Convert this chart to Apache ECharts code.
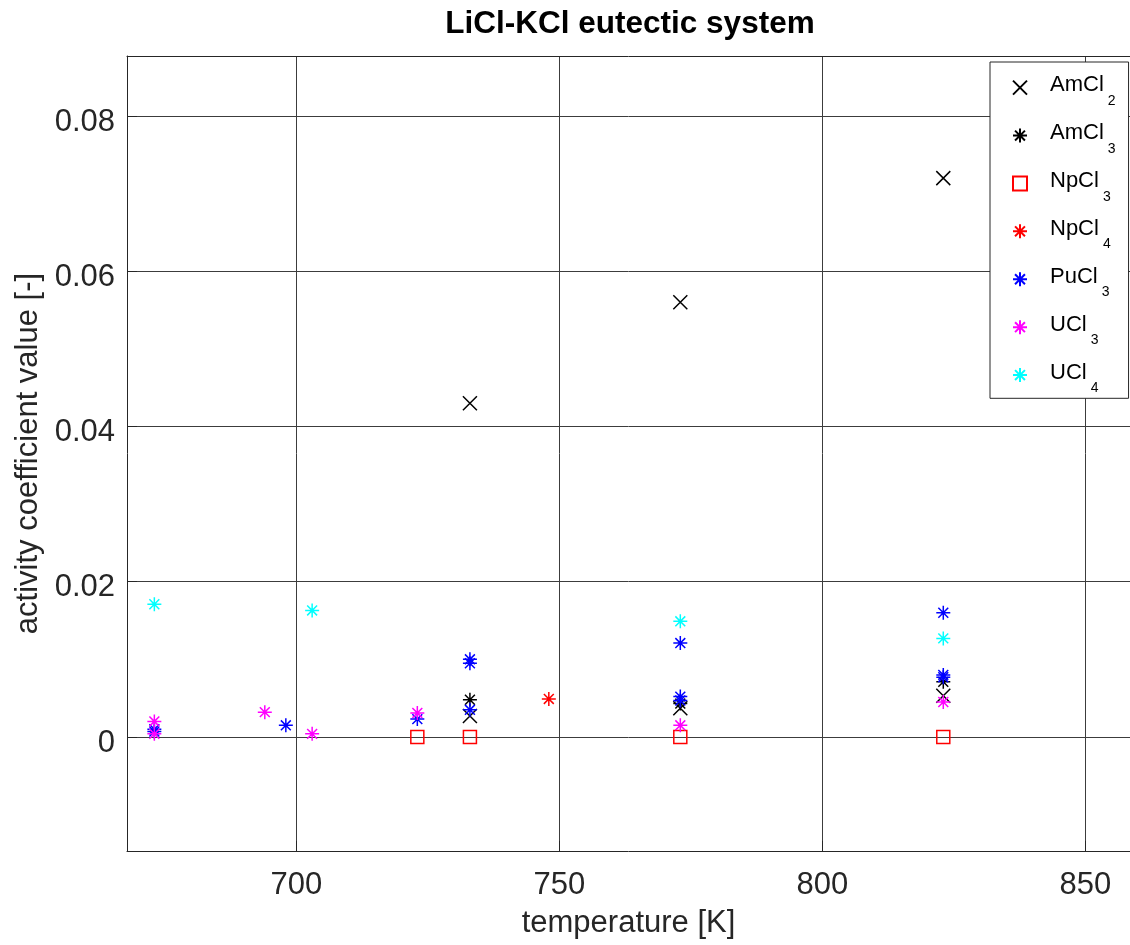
<!DOCTYPE html>
<html>
<head>
<meta charset="utf-8">
<script src="https://cdn.jsdelivr.net/npm/echarts@6/dist/echarts.min.js"></script>
<style>
  html, body { margin: 0; padding: 0; background: #fff; }
  #chart { width: 1130px; height: 945px; }
</style>
</head>
<body>
<div id="chart"></div>
<script>
// Activity coefficients of actinide chlorides in molten LiCl-KCl eutectic
const xTicks = [700, 750, 800, 850];
const yTicks = [0, 0.02, 0.04, 0.06, 0.08];

const amcl2T = [733, 773, 823, 733, 773, 823];
const amcl2Y = [0.043, 0.056, 0.072, 0.0027, 0.0037, 0.0053];

const amcl3T = [733, 773, 823];
const amcl3Y = [0.0048, 0.0043, 0.0071];

const npcl3T = [723, 733, 773, 823];
const npcl3Y = [0, 0, 0, 0];

const npcl4T = [748];
const npcl4Y = [0.0049];

const pucl3T = [673, 673, 698, 723, 733, 733, 733, 773, 773, 773, 823, 823, 823];
const pucl3Y = [0.0010, 0.0007, 0.0015, 0.0023, 0.0100, 0.0095, 0.0035, 0.0121, 0.0052, 0.0047, 0.0160, 0.0080, 0.0077];

const ucl3T = [673, 673, 694, 703, 723, 773, 823];
const ucl3Y = [0.0020, 0.0004, 0.0032, 0.0004, 0.0031, 0.0015, 0.0045];

const ucl4T = [673, 703, 773, 823];
const ucl4Y = [0.0171, 0.0163, 0.0149, 0.0127];

const FONT = "'Liberation Sans', Arial, Helvetica, sans-serif";
const AXIS_COLOR = '#262626';
const GRID_COLOR = '#3c3c3c';

const ASTERISK = 'path://M0,-1L0,1M-1,0L1,0M-0.7071,-0.7071L0.7071,0.7071M-0.7071,0.7071L0.7071,-0.7071';
const CROSS = 'path://M-1,-1L1,1M-1,1L1,-1';

function pairs(xs, ys) {
  return xs.map((x, i) => [x, ys[i]]);
}

function markerSeries(name, xs, ys, symbol, size, color) {
  return {
    name: name,
    type: 'scatter',
    xAxisIndex: 0,
    yAxisIndex: 0,
    data: pairs(xs, ys),
    symbol: symbol,
    symbolSize: size,
    symbolKeepAspect: true,
    itemStyle: { color: 'transparent', borderColor: color, borderWidth: 1.5, opacity: 1 },
    emphasis: { disabled: true },
    z: 5
  };
}

const chart = echarts.init(document.getElementById('chart'), null, { renderer: 'canvas' });

const option = {
  animation: false,
  backgroundColor: '#ffffff',
  title: {
    text: 'LiCl-KCl eutectic system',
    left: 625,
    top: 3,
    textAlign: 'center',
    textStyle: { fontFamily: FONT, fontSize: 31.5, fontWeight: 'bold', color: '#000' }
  },
  grid: { left: 127, right: 0, top: 56, bottom: 94, show: false },
  legend: {
    orient: 'vertical',
    left: 990,
    top: 62,
    padding: [12.4, 13, 3, 22],
    itemWidth: 14,
    itemHeight: 14,
    itemGap: 14.4,
    backgroundColor: '#ffffff',
    borderColor: AXIS_COLOR,
    borderWidth: 1,
    borderRadius: 0,
    selectedMode: false,
    z: 10,
    formatter: function (name) {
      const m = name.match(/^(.*?)(\d)$/);
      return '{a|' + m[1] + '}{s|' + m[2] + '}';
    },
    textStyle: {
      fontFamily: FONT,
      color: '#000',
      rich: {
        a: { fontFamily: FONT, fontSize: 22, color: '#000', verticalAlign: 'top', padding: [7, 0, 0, 18] },
        s: { fontFamily: FONT, fontSize: 14, color: '#000', verticalAlign: 'top', padding: [26.5, 0, 0, 4] }
      }
    }
  },
  xAxis: [
    {
      type: 'value',
      position: 'bottom',
      min: 667.8,
      max: 858.5,
      name: 'temperature [K]',
      nameLocation: 'middle',
      nameGap: 57,
      nameTextStyle: { fontFamily: FONT, fontSize: 31, color: AXIS_COLOR },
      axisLine: { show: true, onZero: false, lineStyle: { color: AXIS_COLOR, width: 1 } },
      axisTick: { show: true, inside: true, length: 10, customValues: xTicks, lineStyle: { color: AXIS_COLOR } },
      axisLabel: { customValues: xTicks, margin: 19, fontFamily: FONT, fontSize: 31, color: AXIS_COLOR },
      splitLine: { show: true, lineStyle: { color: GRID_COLOR, width: 1 } }
    },
    {
      type: 'value',
      position: 'top',
      min: 667.8,
      max: 858.5,
      axisLine: { show: true, onZero: false, lineStyle: { color: AXIS_COLOR, width: 1 } },
      axisTick: { show: false },
      axisLabel: { show: false },
      splitLine: { show: false }
    }
  ],
  yAxis: {
    type: 'value',
    min: -0.01469,
    max: 0.08773,
    name: 'activity coefficient value [-]',
    nameLocation: 'middle',
    nameGap: 79,
    nameTextStyle: { fontFamily: FONT, fontSize: 31, color: AXIS_COLOR },
    axisLine: { show: true, onZero: false, lineStyle: { color: AXIS_COLOR, width: 1 } },
    axisTick: { show: true, inside: true, length: 10, customValues: yTicks, lineStyle: { color: AXIS_COLOR } },
    axisLabel: {
      customValues: yTicks,
      margin: 12,
      fontFamily: FONT,
      fontSize: 31,
      color: AXIS_COLOR,
      formatter: function (v) { return '{v|' + (v === 0 ? '0' : v.toFixed(2)) + '}'; },
      rich: {
        v: { fontFamily: FONT, fontSize: 31, color: AXIS_COLOR, padding: [12, 0, 0, 0] }
      }
    },
    splitLine: { show: true, lineStyle: { color: GRID_COLOR, width: 1 } }
  },
  series: [
    markerSeries('AmCl2', amcl2T, amcl2Y, CROSS, 14, '#000000'),
    markerSeries('AmCl3', amcl3T, amcl3Y, ASTERISK, 14, '#000000'),
    markerSeries('NpCl3', npcl3T, npcl3Y, 'rect', 13, '#ff0000'),
    markerSeries('NpCl4', npcl4T, npcl4Y, ASTERISK, 14, '#ff0000'),
    markerSeries('PuCl3', pucl3T, pucl3Y, ASTERISK, 14, '#0000ff'),
    markerSeries('UCl3', ucl3T, ucl3Y, ASTERISK, 14, '#ff00ff'),
    markerSeries('UCl4', ucl4T, ucl4Y, ASTERISK, 14, '#00ffff')
  ]
};

chart.setOption(option);
</script>
</body>
</html>
